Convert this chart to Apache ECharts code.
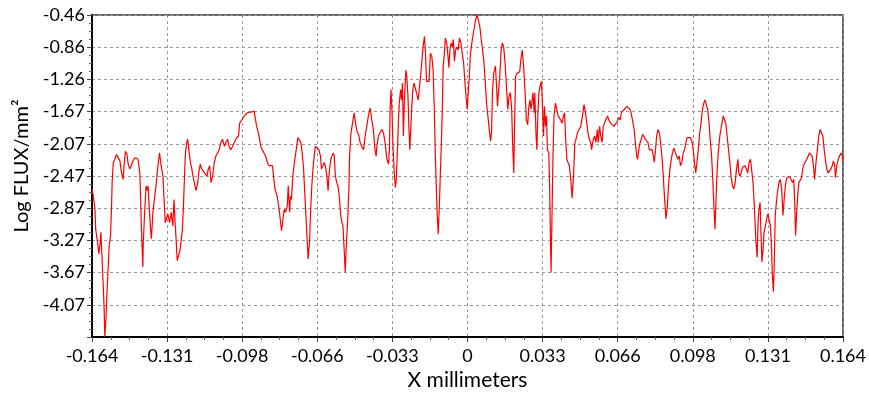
<!DOCTYPE html>
<html>
<head>
<meta charset="utf-8">
<script src="https://cdn.jsdelivr.net/npm/echarts@6/dist/echarts.min.js"></script>
<style>
  html, body { margin: 0; padding: 0; background: #ffffff; }
  #chart { width: 869px; height: 396px; }
</style>
</head>
<body>
<div id="chart"></div>
<script>
// Axis tick labels
const xTickLabels = ['-0.164', '-0.131', '-0.098', '-0.066', '-0.033', '0', '0.033', '0.066', '0.098', '0.131', '0.164'];
const yTickLabels = ['-0.46', '-0.86', '-1.26', '-1.67', '-2.07', '-2.47', '-2.87', '-3.27', '-3.67', '-4.07'];

// Scan position (mm)
const xMm = [
  -0.1640, -0.1634, -0.1627, -0.1624, -0.1616, -0.1610, -0.1604, -0.1601, -0.1595, -0.1591,
  -0.1587, -0.1584, -0.1579, -0.1575, -0.1569, -0.1565, -0.1559, -0.1555, -0.1552, -0.1547,
  -0.1540, -0.1533, -0.1526, -0.1518, -0.1511, -0.1504, -0.1500, -0.1494, -0.1487, -0.1482,
  -0.1475, -0.1468, -0.1461, -0.1453, -0.1446, -0.1439, -0.1431, -0.1427, -0.1425, -0.1422,
  -0.1418, -0.1416, -0.1410, -0.1404, -0.1398, -0.1395, -0.1390, -0.1385, -0.1381, -0.1378,
  -0.1374, -0.1366, -0.1359, -0.1352, -0.1345, -0.1338, -0.1330, -0.1326, -0.1320, -0.1313,
  -0.1309, -0.1301, -0.1294, -0.1287, -0.1282, -0.1277, -0.1272, -0.1268, -0.1262, -0.1256,
  -0.1251, -0.1245, -0.1240, -0.1236, -0.1232, -0.1226, -0.1222, -0.1217, -0.1210, -0.1204,
  -0.1199, -0.1193, -0.1186, -0.1178, -0.1174, -0.1167, -0.1161, -0.1155, -0.1149, -0.1142,
  -0.1138, -0.1132, -0.1126, -0.1120, -0.1113, -0.1106, -0.1099, -0.1091,

  -0.1084, -0.1077, -0.1070, -0.1062, -0.1055, -0.1048, -0.1041, -0.1034, -0.1026, -0.1019,
  -0.1012, -0.1005, -0.1000, -0.0995, -0.0986, -0.0975, -0.0968, -0.0961, -0.0954, -0.0942,
  -0.0932, -0.0925, -0.0921, -0.0915, -0.0908, -0.0903, -0.0896, -0.0889, -0.0882, -0.0874,
  -0.0867, -0.0860, -0.0852, -0.0845, -0.0841, -0.0835, -0.0831, -0.0823, -0.0816, -0.0812,
  -0.0806, -0.0800, -0.0795, -0.0787, -0.0783, -0.0777, -0.0773, -0.0769, -0.0763, -0.0756,
  -0.0748, -0.0741, -0.0734, -0.0728, -0.0722, -0.0716, -0.0710, -0.0705, -0.0700, -0.0696,
  -0.0690, -0.0686, -0.0680, -0.0674, -0.0668, -0.0664, -0.0657, -0.0649, -0.0642, -0.0638,
  -0.0632, -0.0626, -0.0621, -0.0614, -0.0609, -0.0604, -0.0597, -0.0592, -0.0586, -0.0582,
  -0.0577, -0.0571, -0.0566, -0.0560, -0.0554, -0.0548,

  -0.0544, -0.0538, -0.0534, -0.0530, -0.0524, -0.0518, -0.0515, -0.0509, -0.0502, -0.0495,
  -0.0489, -0.0483, -0.0476, -0.0469, -0.0462, -0.0454, -0.0447, -0.0440, -0.0433, -0.0425,
  -0.0418, -0.0411, -0.0404, -0.0399, -0.0396, -0.0389, -0.0382, -0.0374, -0.0367, -0.0360,
  -0.0352, -0.0345, -0.0341, -0.0338, -0.0334, -0.0330, -0.0325, -0.0319, -0.0315, -0.0311,
  -0.0306, -0.0302, -0.0298, -0.0292, -0.0288, -0.0284, -0.0280, -0.0276, -0.0272, -0.0269,
  -0.0265, -0.0260, -0.0256, -0.0252, -0.0246, -0.0240, -0.0234, -0.0228, -0.0223, -0.0215,
  -0.0211, -0.0205, -0.0200, -0.0194, -0.0188, -0.0184, -0.0179, -0.0174, -0.0168, -0.0162,
  -0.0156, -0.0150, -0.0145, -0.0140, -0.0136, -0.0132, -0.0128, -0.0123, -0.0119, -0.0114,
  -0.0110, -0.0106, -0.0101, -0.0097, -0.0091, -0.0085, -0.0081, -0.0077, -0.0071, -0.0067,
  -0.0062, -0.0057, -0.0052, -0.0046, -0.0041, -0.0035, -0.0029, -0.0023, -0.0017, -0.0011,
  -0.0005,

  -0.0001, 0.0002, 0.0008, 0.0013, 0.0021, 0.0028, 0.0035, 0.0042, 0.0048, 0.0054,
  0.0060, 0.0066, 0.0072, 0.0077, 0.0083, 0.0089, 0.0095, 0.0101, 0.0105, 0.0109,
  0.0114, 0.0118, 0.0122, 0.0127, 0.0131, 0.0135, 0.0141, 0.0147, 0.0152, 0.0158,
  0.0164, 0.0170, 0.0176, 0.0181, 0.0187, 0.0193, 0.0197, 0.0202, 0.0206, 0.0210,
  0.0216, 0.0222, 0.0228, 0.0233, 0.0239, 0.0245, 0.0251, 0.0257, 0.0263, 0.0268,
  0.0273, 0.0277, 0.0281, 0.0286, 0.0291, 0.0294, 0.0299, 0.0303, 0.0307, 0.0312,
  0.0317, 0.0323, 0.0328, 0.0332, 0.0336, 0.0341, 0.0345, 0.0349, 0.0355, 0.0359,
  0.0362, 0.0365, 0.0369, 0.0374, 0.0378, 0.0384, 0.0390, 0.0396, 0.0402, 0.0407,
  0.0413, 0.0419, 0.0424, 0.0428, 0.0434, 0.0439, 0.0445, 0.0451, 0.0457, 0.0463,
  0.0469, 0.0474, 0.0480, 0.0487, 0.0495, 0.0502, 0.0509, 0.0515, 0.0521, 0.0526,
  0.0532, 0.0538,

  0.0542, 0.0548, 0.0555, 0.0561, 0.0567, 0.0571, 0.0577, 0.0582, 0.0588, 0.0593,
  0.0598, 0.0604, 0.0612, 0.0617, 0.0625, 0.0632, 0.0639, 0.0646, 0.0654, 0.0661,
  0.0667, 0.0672, 0.0678, 0.0684, 0.0690, 0.0697, 0.0704, 0.0710, 0.0716, 0.0722,
  0.0728, 0.0733, 0.0739, 0.0743, 0.0748, 0.0754, 0.0759, 0.0765, 0.0771, 0.0777,
  0.0782, 0.0788, 0.0794, 0.0800, 0.0806, 0.0812, 0.0816, 0.0820, 0.0826, 0.0832,
  0.0838, 0.0843, 0.0849, 0.0855, 0.0861, 0.0867, 0.0873, 0.0878, 0.0884, 0.0890,
  0.0895, 0.0901, 0.0907, 0.0913, 0.0919, 0.0925, 0.0930, 0.0936, 0.0942, 0.0948,
  0.0954, 0.0959, 0.0965, 0.0973, 0.0980, 0.0986, 0.0991, 0.0997, 0.1002, 0.1008,
  0.1014, 0.1020, 0.1026, 0.1032, 0.1037, 0.1043, 0.1049, 0.1055, 0.1060, 0.1066,
  0.1072, 0.1076, 0.1081,

  0.1085, 0.1089, 0.1095, 0.1102, 0.1110, 0.1117, 0.1123, 0.1128, 0.1134, 0.1140,
  0.1146, 0.1151, 0.1157, 0.1163, 0.1169, 0.1175, 0.1181, 0.1185, 0.1189, 0.1195,
  0.1201, 0.1207, 0.1212, 0.1218, 0.1224, 0.1230, 0.1236, 0.1242, 0.1247, 0.1252,
  0.1256, 0.1260, 0.1265, 0.1269, 0.1273, 0.1278, 0.1282, 0.1286, 0.1291, 0.1295,
  0.1301, 0.1307, 0.1312, 0.1318, 0.1323, 0.1327, 0.1331, 0.1336, 0.1340, 0.1344,
  0.1349, 0.1354, 0.1360, 0.1366, 0.1372, 0.1378, 0.1384, 0.1390, 0.1395, 0.1401,
  0.1407, 0.1413, 0.1419, 0.1425, 0.1429, 0.1433, 0.1437, 0.1442, 0.1447, 0.1453,
  0.1459, 0.1464, 0.1470, 0.1476, 0.1482, 0.1488, 0.1493, 0.1499, 0.1505, 0.1511,
  0.1516, 0.1522, 0.1528, 0.1534, 0.1540, 0.1546, 0.1552, 0.1558, 0.1563, 0.1569,
  0.1575, 0.1581, 0.1587, 0.1593, 0.1598, 0.1604, 0.1607, 0.1613, 0.1619, 0.1625,
  0.1631, 0.1637, 0.1640
];

// Log flux per mm^2 at each scan position
const logFlux = [
  -2.63, -2.72, -2.88, -3.13, -3.29, -3.44, -3.29, -3.17, -3.58, -3.83,
  -4.12, -4.47, -4.24, -3.96, -3.58, -3.34, -3.21, -2.88, -2.55, -2.30,
  -2.26, -2.20, -2.18, -2.28, -2.43, -2.51, -2.34, -2.16, -2.20, -2.32,
  -2.38, -2.36, -2.28, -2.24, -2.26, -2.26, -2.43, -2.80, -3.05, -3.29,
  -3.60, -3.29, -2.92, -2.59, -2.65, -2.59, -2.88, -3.09, -3.25, -3.13,
  -2.92, -2.72, -2.55, -2.34, -2.18, -2.34, -2.47, -2.72, -3.05, -3.05,
  -2.94, -3.05, -2.92, -3.09, -2.76, -3.05, -3.29, -3.52, -3.46, -3.40,
  -3.40, -3.13, -2.80, -2.47, -2.18, -2.05, -2.01, -2.14, -2.30, -2.38,
  -2.47, -2.55, -2.65, -2.55, -2.43, -2.32, -2.38, -2.38, -2.43, -2.41,
  -2.47, -2.38, -2.34, -2.55, -2.47, -2.30, -2.22, -2.20,

  -2.14, -2.05, -2.01, -2.10, -2.05, -2.01, -2.10, -2.14, -2.10, -2.08,
  -2.01, -2.01, -1.97, -1.81, -1.77, -1.72, -1.70, -1.68, -1.68, -1.67,
  -1.66, -1.64, -1.85, -1.91, -2.01, -2.10, -2.14, -2.16, -2.22, -2.30,
  -2.34, -2.36, -2.34, -2.34, -2.63, -2.63, -2.72, -2.88, -3.05, -3.15,
  -3.00, -2.88, -2.92, -2.84, -2.59, -2.92, -2.72, -2.76, -2.47, -2.30,
  -2.14, -1.99, -1.99, -2.05, -2.18, -2.38, -2.72, -3.00, -3.29, -3.50,
  -3.29, -2.96, -2.59, -2.34, -2.18, -2.10, -2.10, -2.14, -2.22, -2.38,
  -2.34, -2.30, -2.34, -2.47, -2.65, -2.43, -2.26, -2.22, -2.18, -2.22,
  -2.47, -2.55, -2.59, -2.72, -2.96, -3.05,

  -3.09, -3.42, -3.67, -3.38, -3.05, -2.63, -2.22, -1.93, -1.81, -1.68,
  -1.81, -1.91, -1.95, -2.05, -2.10, -2.14, -1.97, -1.85, -1.72, -1.62,
  -1.77, -1.89, -2.14, -2.22, -2.10, -1.97, -1.93, -1.89, -1.93, -2.05,
  -2.26, -2.32, -2.14, -1.64, -1.39, -1.64, -2.14, -2.47, -2.61, -2.51,
  -2.14, -1.81, -1.56, -1.39, -1.52, -1.31, -1.97, -1.56, -1.31, -1.15,
  -1.23, -1.48, -1.85, -2.14, -1.77, -1.43, -1.31, -1.37, -1.43, -1.52,
  -1.39, -1.23, -1.06, -0.86, -0.73, -0.90, -1.29, -1.27, -1.29, -0.94,
  -0.98, -1.15, -1.64, -2.26, -2.63, -2.96, -3.19, -2.84, -2.47, -2.05,
  -1.64, -1.10, -0.94, -0.75, -0.81, -0.98, -1.12, -0.90, -0.81, -0.86,
  -0.77, -1.04, -0.90, -0.86, -0.90, -0.75, -0.81, -0.94, -1.06, -1.31,
  -1.52,

  -1.64, -1.48, -1.23, -0.94, -0.77, -0.65, -0.53, -0.46, -0.48, -0.61,
  -0.77, -0.90, -1.06, -1.27, -1.56, -1.72, -1.89, -2.03, -1.93, -1.43,
  -1.19, -1.15, -1.10, -1.35, -1.60, -1.43, -1.23, -0.90, -0.81, -0.86,
  -1.06, -1.35, -1.64, -1.48, -1.43, -1.64, -2.05, -2.43, -1.77, -1.23,
  -1.19, -1.21, -1.17, -1.02, -0.90, -1.10, -1.39, -1.77, -1.83, -1.60,
  -1.52, -1.64, -1.56, -1.43, -1.68, -1.43, -1.93, -2.14, -1.72, -1.43,
  -1.35, -1.29, -1.64, -1.97, -1.60, -1.85, -1.72, -2.14, -2.18, -2.63,
  -3.21, -3.67, -2.96, -2.14, -1.72, -1.56, -1.64, -1.72, -1.72, -1.77,
  -1.81, -1.72, -1.68, -1.97, -2.26, -2.30, -2.34, -2.51, -2.74, -2.47,
  -2.05, -2.01, -1.93, -1.89, -1.85, -1.72, -1.58, -1.68, -1.81, -1.93,
  -2.01, -2.05,

  -2.14, -2.03, -1.97, -2.05, -1.89, -2.05, -1.85, -1.97, -2.05, -1.85,
  -1.81, -1.77, -1.72, -1.77, -1.81, -1.83, -1.85, -1.83, -1.79, -1.74,
  -1.77, -1.68, -1.66, -1.64, -1.64, -1.60, -1.58, -1.64, -1.70, -1.72,
  -1.89, -2.05, -2.22, -2.26, -2.14, -2.05, -2.01, -1.95, -1.97, -2.01,
  -2.03, -2.05, -2.14, -2.16, -2.14, -2.22, -2.30, -2.18, -1.97, -1.89,
  -1.93, -2.05, -2.22, -2.47, -2.76, -3.00, -2.84, -2.59, -2.38, -2.26,
  -2.18, -2.12, -2.10, -2.22, -2.26, -2.22, -2.34, -2.30, -2.18, -2.14,
  -2.05, -1.99, -1.97, -1.99, -2.03, -2.14, -2.30, -2.43, -2.30, -2.14,
  -1.93, -1.81, -1.64, -1.56, -1.52, -1.54, -1.64, -1.81, -2.01, -2.22,
  -2.55, -2.84, -3.13,

  -2.80, -2.47, -2.18, -1.97, -1.83, -1.72, -1.70, -1.81, -1.97, -2.14,
  -2.30, -2.47, -2.59, -2.63, -2.55, -2.38, -2.26, -2.43, -2.47, -2.43,
  -2.36, -2.38, -2.34, -2.38, -2.43, -2.30, -2.26, -2.28, -2.55, -2.80,
  -3.05, -3.29, -3.48, -3.05, -2.88, -2.80, -3.21, -3.54, -3.38, -3.17,
  -3.09, -3.00, -2.94, -2.96, -3.09, -3.29, -3.67, -3.91, -3.54, -2.96,
  -2.80, -2.67, -2.55, -2.51, -2.63, -2.96, -2.72, -2.55, -2.49, -2.47,
  -2.47, -2.51, -2.55, -2.51, -2.80, -3.21, -2.96, -2.72, -2.55, -2.53,
  -2.49, -2.38, -2.32, -2.34, -2.26, -2.22, -2.18, -2.20, -2.22, -2.34,
  -2.51, -2.30, -2.14, -1.97, -1.89, -1.87, -1.97, -2.14, -2.26, -2.38,
  -2.43, -2.41, -2.38, -2.34, -2.28, -2.34, -2.49, -2.34, -2.26, -2.22,
  -2.18, -2.22, -2.28
];

// Axis extent: ten equal steps of 0.401 from the bottom edge to the top edge
const Y_MIN = -4.473, Y_MAX = -0.463, Y_STEP = 0.401;
const X_MIN = -0.164, X_MAX = 0.164, X_STEP = 0.0328;

const FONT = 'Lato, "Noto Sans", sans-serif';

function pickLabel(list, value, tol) {
  const hit = list.find(s => Math.abs(parseFloat(s) - value) < tol);
  return hit === undefined ? '' : hit;
}

const points = xMm.slice(0, Math.min(xMm.length, logFlux.length)).map((x, i) => [x, logFlux[i]]);

const chart = echarts.init(document.getElementById('chart'), null, { renderer: 'canvas' });

const dashed = { show: true, lineStyle: { color: '#999999', width: 1, type: [3, 3] } };

chart.setOption({
  animation: false,
  backgroundColor: '#ffffff',
  grid: {
    left: 92, right: 22, top: 15, bottom: 57,
    show: true, borderColor: '#333333', borderWidth: 1.5, backgroundColor: 'transparent'
  },
  xAxis: {
    type: 'value',
    min: X_MIN, max: X_MAX, interval: X_STEP,
    name: 'X millimeters',
    nameLocation: 'middle',
    nameGap: 33,
    nameTextStyle: { fontFamily: FONT, fontSize: 21, color: '#000000' },
    axisLine: { show: true, onZero: false, lineStyle: { color: '#000000', width: 2 } },
    axisTick: { show: true, inside: false, length: 5, lineStyle: { color: '#444444', width: 1 } },
    minorTick: { show: true, splitNumber: 4, length: 3, lineStyle: { color: '#666666', width: 1 } },
    axisLabel: {
      fontFamily: FONT, fontSize: 18, color: '#000000', margin: 10,
      formatter: v => pickLabel(xTickLabels, v, 0.005)
    },
    splitLine: dashed
  },
  yAxis: {
    type: 'value',
    min: Y_MIN, max: Y_MAX, interval: Y_STEP,
    name: 'Log FLUX/mm²',
    nameLocation: 'middle',
    nameGap: 57,
    nameRotate: 90,
    nameTextStyle: { fontFamily: FONT, fontSize: 20, color: '#000000', padding: [0, 0, 0, 20] },
    axisLine: { show: true, onZero: false, lineStyle: { color: '#000000', width: 2 } },
    axisTick: { show: true, inside: false, length: 5, lineStyle: { color: '#444444', width: 1 } },
    minorTick: { show: true, splitNumber: 4, length: 3, lineStyle: { color: '#666666', width: 1 } },
    axisLabel: {
      fontFamily: FONT, fontSize: 18, color: '#000000', margin: 7,
      formatter: v => pickLabel(yTickLabels, v, 0.05)
    },
    splitLine: dashed
  },
  series: [{
    type: 'line',
    data: points,
    showSymbol: false,
    symbol: 'none',
    lineStyle: { color: '#ff0000', width: 1.2 },
    clip: true
  }]
});
</script>
</body>
</html>
